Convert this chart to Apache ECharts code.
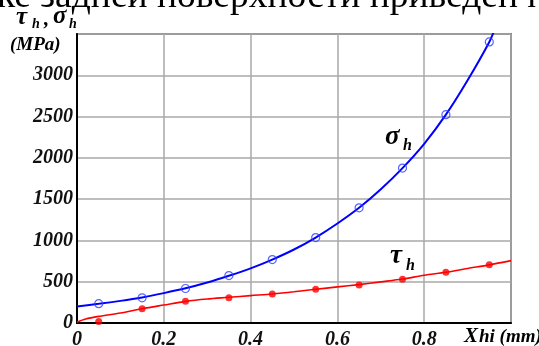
<!DOCTYPE html>
<html>
<head>
<meta charset="utf-8">
<script src="https://cdn.jsdelivr.net/npm/echarts@6/dist/echarts.min.js"></script>
<style>
  html, body { margin: 0; padding: 0; background: #fff; }
  #chart { width: 539px; height: 346px; }
</style>
</head>
<body>
<div id="chart"></div>
<script>
// Axis ticks (x: depth along flank, mm; y: stress, MPa)
const xTicks = [0, 0.2, 0.4, 0.6, 0.8, 1.0];
const xTickLabels = ['0', '0.2', '0.4', '0.6', '0.8', ''];
const yTicks = [0, 500, 1000, 1500, 2000, 2500, 3000, 3500];
const yTickLabels = ['0', '500', '1000', '1500', '2000', '2500', '3000', ''];

// Measured points
const sampleX = [0.05, 0.15, 0.25, 0.35, 0.45, 0.55, 0.65, 0.75, 0.85, 0.95];
const sigmaPoints = [234, 305, 418, 574, 768, 1035, 1395, 1876, 2523, 3404];
const tauPoints = [19, 173, 262, 307, 352, 408, 461, 529, 614, 704];

// Fitted curves
const sigmaCurveX = [0, 0.05, 0.1, 0.15, 0.2, 0.25, 0.3, 0.35, 0.4, 0.45, 0.5, 0.55, 0.6, 0.65, 0.7, 0.75, 0.8, 0.85, 0.9, 0.95, 0.965];
const sigmaCurve = [201, 232, 268, 310, 362, 420, 490, 572, 662, 768, 890, 1035, 1205, 1395, 1620, 1876, 2170, 2523, 2940, 3404, 3590];
const tauCurveX = [0, 0.02, 0.05, 0.1, 0.15, 0.2, 0.25, 0.3, 0.35, 0.4, 0.45, 0.5, 0.55, 0.6, 0.65, 0.7, 0.75, 0.8, 0.85, 0.9, 0.95, 1.0];
const tauCurve = [10, 48, 80, 122, 173, 218, 262, 291, 311, 332, 352, 378, 408, 437, 465, 498, 532, 578, 614, 660, 704, 755];

const zip = (xs, ys) => xs.map((x, i) => [x, ys[i]]);
const SERIF = '"Liberation Serif", "Times New Roman", serif';
const BI = (size) => 'italic bold ' + size + 'px ' + SERIF;

function txt(x, y, text, font, fill) {
  return {
    type: 'text', x: x, y: y, silent: true,
    style: { text: text, font: font, fill: fill || '#000', textAlign: 'left', textVerticalAlign: 'bottom' }
  };
}

const chart = echarts.init(document.getElementById('chart'), null, { renderer: 'canvas' });

chart.setOption({
  animation: false,
  backgroundColor: '#ffffff',
  grid: {
    left: 77, right: 28, top: 34, bottom: 23,
    containLabel: false, outerBoundsMode: 'none',
    show: true, borderColor: '#7a7a7a', borderWidth: 2, backgroundColor: 'transparent'
  },
  xAxis: {
    type: 'value', min: 0, max: 1, interval: 0.2,
    axisLine: { show: true, onZero: false, lineStyle: { color: '#000', width: 2 } },
    axisTick: { show: false },
    splitLine: { show: true, lineStyle: { color: '#a8a8a8', width: 1.5 } },
    axisLabel: {
      margin: 7, color: '#111', fontFamily: SERIF, fontStyle: 'italic', fontWeight: 'bold', fontSize: 20,
      formatter: (v) => { const i = xTicks.findIndex(t => Math.abs(t - v) < 1e-9); return i >= 0 ? xTickLabels[i] : ''; }
    }
  },
  yAxis: {
    type: 'value', min: 0, max: 3500, interval: 500,
    axisLine: { show: true, onZero: false, lineStyle: { color: '#000', width: 2 } },
    axisTick: { show: false },
    splitLine: { show: true, lineStyle: { color: '#a8a8a8', width: 1.5 } },
    axisLabel: {
      margin: 4, padding: [10, 0, 0, 0], color: '#111', fontFamily: SERIF, fontStyle: 'italic', fontWeight: 'bold', fontSize: 20,
      formatter: (v) => { const i = yTicks.indexOf(v); return i >= 0 ? yTickLabels[i] : ''; }
    }
  },
  series: [
    {
      name: 'sigma fit', type: 'line', data: zip(sigmaCurveX, sigmaCurve), smooth: 0.3,
      showSymbol: false, clip: true, lineStyle: { color: '#0000ff', width: 2 }, z: 3
    },
    {
      name: 'tau fit', type: 'line', data: zip(tauCurveX, tauCurve), smooth: 0.3,
      showSymbol: false, clip: true, lineStyle: { color: '#ff0000', width: 1.6 }, z: 3
    },
    {
      name: 'sigma', type: 'scatter', data: zip(sampleX, sigmaPoints), symbol: 'circle', symbolSize: 8,
      itemStyle: { color: 'rgba(0,0,0,0)', borderColor: '#2a3cff', borderWidth: 1.2 }, z: 4
    },
    {
      name: 'tau', type: 'scatter', data: zip(sampleX, tauPoints), symbol: 'circle', symbolSize: 7,
      itemStyle: { color: '#ff0000' }, z: 4
    }
  ],
  graphic: [
    // running text of the page above the figure
    txt(-3, 16, 'ке задней поверхности приведен на', '37.5px ' + SERIF),
    // y axis title
    txt(16, 30, 'τ', BI(25)),
    txt(32, 31, 'h', BI(14)),
    txt(44, 30, ',', BI(21)),
    txt(53, 29, 'σ', BI(25)),
    txt(69, 31, 'h', BI(14)),
    txt(10, 55, '(MPa)', BI(19)),
    // curve labels
    txt(385, 151, 'σ', BI(27)),
    txt(403, 154, 'h', BI(16)),
    txt(390, 270, 'τ', BI(27)),
    txt(406, 274, 'h', BI(16)),
    // x axis title
    txt(464, 347, 'X', BI(21)),
    txt(479, 347, 'hi (mm)', BI(19))
  ]
});
</script>
</body>
</html>
